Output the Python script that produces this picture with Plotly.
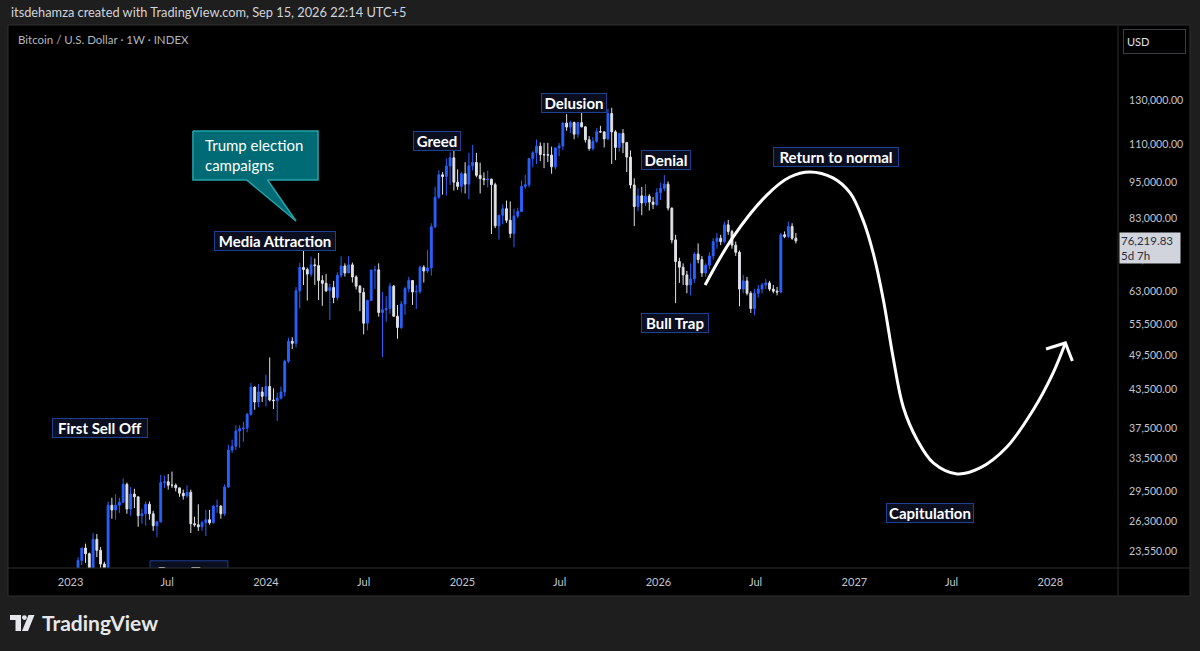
import math
import pandas as pd
import plotly.graph_objects as go

# ---------------- DATA (BTC/USD weekly, thousands of USD) ----------------
FIRST_WEEK = "2022-09-12"

OPEN = [
    # 2022 (from Sep 12)
    21.8, 19.4, 18.8, 19.3, 19.1, 19.1, 19.6, 20.6, 20.9, 16.3, 16.3, 16.4, 17.1, 17.1, 16.8, 16.8,
    # 2023
    16.6, 17.1, 21.2, 22.7, 23.8, 23.3, 21.8, 24.6, 23.6, 22.4, 22.1, 28.0, 27.5, 28.0, 28.3, 30.3,
    27.6, 29.2, 28.9, 26.9, 27.1, 28.1, 27.1, 25.9, 26.3, 30.5, 30.6, 30.2, 30.2, 29.9, 29.3, 29.0,
    29.4, 26.1, 26.0, 25.8, 26.2, 26.5, 26.2, 27.9, 27.9, 27.1, 30.0, 34.5, 35.0, 37.1, 37.4, 37.5,
    39.5, 43.8, 41.4, 43.0,
    # 2024
    42.3, 43.9, 41.7, 41.6, 42.0, 43.0, 48.3, 52.1, 51.7, 63.1, 68.9, 68.4, 67.2, 69.6, 69.4, 65.6,
    64.9, 63.1, 63.9, 61.5, 66.9, 69.3, 67.5, 69.6, 66.5, 64.2, 62.7, 55.8, 60.8, 68.2, 68.3, 58.1,
    58.7, 59.0, 64.2, 57.3, 54.9, 60.0, 63.6, 65.6, 62.8, 62.9, 69.0, 68.0, 68.8, 80.4, 89.9, 97.9,
    97.3, 101.2, 104.4, 95.2, 93.7,
    # 2025
    98.3, 94.5, 101.3, 102.6, 97.7, 96.5, 96.1, 96.3, 94.3, 80.7, 84.0, 86.1, 82.4, 78.4, 83.7, 85.2,
    93.7, 94.3, 104.1, 106.4, 109.1, 105.7, 105.6, 105.5, 100.9, 108.4, 109.2, 119.1, 117.3, 119.4,
    114.2, 119.3, 117.4, 111.8, 108.2, 111.1, 115.3, 115.2, 112.2, 123.5, 115.2, 108.6, 114.5, 110.6,
    104.7, 94.2, 86.8,
    # Dec 2025 - Sep 2026
    90.4, 88.0, 90.3, 88.3, 87.5, 91.5, 93.0, 94.5, 86.3, 76.5, 70.5, 69.0, 67.0, 64.5, 66.0, 72.5,
    71.0, 67.5, 69.5, 72.0, 76.0, 77.0, 76.0, 81.0, 79.0, 75.0, 73.0, 63.5, 65.5, 62.5, 59.0, 62.5,
    63.5, 64.5, 65.0, 63.5, 63.0, 62.8, 78.0, 77.5, 80.5, 77.0,
]
HIGH = [
    22.7, 19.9, 20.4, 20.5, 19.5, 19.7, 21.0, 21.5, 21.0, 17.2, 16.8, 17.4, 17.4, 18.4, 17.0, 16.9,
    17.4, 21.4, 23.0, 23.8, 24.2, 23.4, 25.2, 25.1, 23.9, 22.6, 28.4, 28.8, 29.2, 28.8, 31.0, 30.5,
    30.0, 29.8, 28.9, 27.6, 28.4, 28.4, 27.4, 26.2, 31.4, 31.3, 31.5, 31.8, 30.4, 29.9, 29.7, 30.2,
    29.7, 26.8, 28.1, 26.4, 27.5, 27.5, 28.0, 28.6, 28.0, 30.3, 35.2, 35.9, 37.9, 37.9, 38.4, 39.7,
    44.5, 43.9, 44.3, 43.8,
    45.9, 49.0, 43.6, 42.9, 43.9, 48.6, 52.8, 52.9, 64.0, 70.1, 73.8, 68.9, 71.8, 71.3, 72.8, 66.9,
    67.2, 64.8, 65.5, 67.7, 71.9, 70.0, 71.9, 70.2, 66.9, 64.5, 63.8, 61.0, 68.4, 69.4, 70.0, 62.8,
    61.8, 65.0, 64.5, 59.8, 60.7, 64.1, 66.5, 65.6, 64.5, 69.4, 69.5, 73.6, 81.5, 93.5, 99.6, 98.9,
    104.1, 106.6, 108.4, 99.9, 99.0,
    102.7, 106.4, 109.6, 106.4, 102.5, 98.8, 99.5, 96.5, 95.0, 84.0, 87.5, 88.8, 88.5, 86.1, 86.4,
    95.8, 97.9, 104.3, 107.1, 111.9, 110.7, 110.5, 110.5, 108.9, 108.5, 110.5, 119.5, 123.2, 120.2,
    119.7, 119.3, 124.5, 117.6, 113.4, 113.0, 116.8, 117.9, 115.3, 125.7, 126.2, 115.9, 114.6, 116.4,
    110.8, 107.4, 96.6, 93.0,
    93.5, 94.5, 91.0, 90.0, 93.0, 95.0, 97.8, 95.5, 86.5, 78.0, 71.5, 70.0, 68.0, 70.0, 73.0, 75.5,
    72.0, 70.0, 73.0, 77.0, 78.5, 78.0, 82.0, 82.5, 79.5, 76.0, 73.5, 67.0, 66.5, 63.0, 63.5, 64.5,
    65.0, 66.0, 65.5, 64.5, 64.0, 78.5, 79.0, 82.0, 81.5, 78.5,
]
LOW = [
    19.3, 18.1, 18.5, 19.0, 18.2, 18.9, 19.2, 20.0, 15.6, 15.8, 15.5, 16.0, 16.9, 16.5, 16.3, 16.4,
    16.5, 17.1, 20.4, 22.3, 22.5, 21.4, 21.4, 23.0, 21.9, 19.6, 21.9, 26.6, 26.5, 27.2, 28.2, 27.1,
    26.9, 27.7, 25.8, 26.1, 25.9, 26.5, 25.4, 24.8, 26.2, 29.9, 29.7, 29.9, 29.5, 28.9, 28.6, 28.8,
    25.2, 25.8, 25.4, 25.4, 24.9, 26.0, 26.1, 27.2, 26.6, 26.9, 29.9, 34.1, 34.5, 34.8, 35.6, 36.9,
    39.3, 40.2, 40.6, 41.4,
    40.7, 41.5, 40.3, 38.5, 41.8, 42.3, 48.0, 50.6, 50.9, 59.0, 64.5, 60.8, 66.5, 64.5, 60.9, 59.6,
    62.8, 56.5, 60.2, 60.8, 66.3, 66.6, 67.5, 65.1, 63.4, 58.4, 53.5, 54.3, 60.8, 63.5, 57.2, 49.1,
    56.1, 57.8, 57.2, 52.6, 54.6, 57.6, 62.7, 59.8, 58.9, 62.4, 65.1, 67.5, 66.8, 80.0, 89.4, 90.8,
    90.5, 94.2, 92.2, 92.5, 91.5,
    91.2, 89.3, 99.5, 97.0, 91.2, 94.1, 93.3, 78.2, 80.0, 76.6, 81.2, 81.6, 77.1, 74.4, 83.1,
    85.1, 92.8, 93.4, 100.7, 102.0, 103.1, 100.4, 102.7, 98.3, 100.0, 105.1, 107.5, 115.7, 114.7,
    112.0, 112.7, 117.2, 110.6, 107.3, 107.3, 110.6, 114.8, 108.6, 111.6, 102.0, 103.5, 106.9, 106.3,
    98.9, 93.0, 80.6, 85.3,
    84.0, 87.0, 85.5, 86.0, 87.0, 89.0, 92.0, 85.5, 75.5, 60.2, 65.0, 64.5, 62.5, 62.0, 65.0, 70.0,
    66.5, 66.5, 68.5, 71.0, 74.0, 75.0, 75.5, 78.0, 74.0, 72.0, 59.5, 62.5, 62.0, 58.0, 57.5, 61.5,
    62.5, 63.5, 63.0, 62.5, 62.0, 62.5, 77.0, 77.0, 76.5, 75.5,
]
CLOSE = [
    19.4, 18.8, 19.3, 19.1, 19.1, 19.6, 20.6, 20.9, 16.3, 16.3, 16.4, 17.1, 17.1, 16.8, 16.8, 16.6,
    17.1, 21.2, 22.7, 23.8, 23.3, 21.8, 24.6, 23.6, 22.4, 22.1, 28.0, 27.5, 28.0, 28.3, 30.3, 27.6,
    29.2, 28.9, 26.9, 27.1, 28.1, 27.1, 25.9, 26.3, 30.5, 30.6, 30.2, 30.2, 29.9, 29.3, 29.0, 29.4,
    26.1, 26.0, 25.8, 26.2, 26.5, 26.2, 27.9, 27.9, 27.1, 30.0, 34.5, 35.0, 37.1, 37.4, 37.5, 39.5,
    43.8, 41.4, 43.0, 42.3,
    43.9, 41.7, 41.6, 42.0, 43.0, 48.3, 52.1, 51.7, 63.1, 68.9, 68.4, 67.2, 69.6, 69.4, 65.6, 64.9,
    63.1, 63.9, 61.5, 66.9, 69.3, 67.5, 69.6, 66.5, 64.2, 62.7, 55.8, 60.8, 68.2, 68.3, 58.1, 58.7,
    59.0, 64.2, 57.3, 54.9, 60.0, 63.6, 65.6, 62.8, 62.9, 69.0, 68.0, 68.8, 80.4, 89.9, 97.9, 97.3,
    101.2, 104.4, 95.2, 93.7, 98.3,
    94.5, 101.3, 102.6, 97.7, 96.5, 96.1, 96.3, 94.3, 80.7, 84.0, 86.1, 82.4, 78.4, 83.7, 85.2,
    93.7, 94.3, 104.1, 106.4, 109.1, 105.7, 105.6, 105.5, 100.9, 108.4, 109.2, 119.1, 117.3, 119.4,
    114.2, 119.3, 117.4, 111.8, 108.2, 111.1, 115.3, 115.2, 112.2, 123.5, 115.2, 108.6, 114.5, 110.6,
    104.7, 94.2, 86.8, 90.4,
    88.0, 90.3, 88.3, 87.5, 91.5, 93.0, 94.5, 86.3, 76.5, 70.5, 69.0, 67.0, 64.5, 66.0, 72.5, 71.0,
    67.5, 69.5, 72.0, 76.0, 77.0, 76.0, 81.0, 79.0, 75.0, 73.0, 63.5, 65.5, 62.5, 59.0, 62.5, 63.5,
    64.5, 65.0, 63.5, 63.0, 62.8, 78.0, 77.5, 80.5, 77.0, 76.21983,
]

LAST_PRICE = 76219.83
LAST_COUNTDOWN = "5d 7h"

Y_TICKS = [23550, 26300, 29500, 33500, 37500, 43500, 49500, 55500, 63000, 71000,
           83000, 95000, 110000, 130000]
X_TICKS = ["2023-01-02", "2023-07-01", "2024-01-01", "2024-07-01", "2025-01-01", "2025-07-01",
           "2026-01-01", "2026-07-01", "2027-01-01", "2027-07-01", "2028-01-01"]
X_TICK_TEXT = ["2023", "Jul", "2024", "Jul", "2025", "Jul", "2026", "Jul", "2027", "Jul", "2028"]

# phase labels: (text, date, price, box width px)
LABELS = [
    ("First Sell Off", "2023-02-25", 37520, 96),
    ("Media Attraction", "2024-01-18", 76190, 122),
    ("Greed", "2024-11-14", 111265, 48),
    ("Delusion", "2025-07-27", 128530, 66),
    ("Denial", "2026-01-15", 103530, 50),
    ("Return to normal", "2026-11-28", 104730, 126),
    ("Bull Trap", "2026-02-01", 55845, 68),
    ("Capitulation", "2027-05-22", 27190, 88),
]
# partly hidden label: text, box x0, x1 (dates), y0, y1 (prices)
BEAR_TRAP = ("Bear Trap", "2023-05-30", "2023-10-22", 20900, 22680)

# callout outline (date, price) and text
CALLOUT_X = ["2023-08-18", "2024-04-07", "2024-04-07", "2024-01-04", "2024-02-26",
             "2023-11-26", "2023-08-18", "2023-08-18"]
CALLOUT_Y = [115560, 115560, 95990, 95990, 82180, 95990, 95990, 115560]
CALLOUT_TEXT = ("Trump election<br>campaigns", "2023-09-06", 105530)

# hand-drawn scenario path
PATH_X = ["2026-03-29", "2026-05-20", "2026-07-22", "2026-09-03", "2026-10-10", "2026-11-22",
          "2026-12-24", "2027-01-17", "2027-02-05", "2027-02-24", "2027-03-14", "2027-04-02",
          "2027-04-28", "2027-05-28", "2027-07-11", "2027-08-23", "2027-10-12", "2027-11-30",
          "2028-01-06", "2028-01-29"]
PATH_Y = [64490, 77340, 90670, 97085, 98940, 96745, 91400, 82520, 72830, 60930, 49100, 40620,
          35850, 32860, 31520, 32240, 34910, 40170, 46200, 51770]
ARROW_X = ["2027-12-24", "2028-01-29", "2028-02-11"]
ARROW_Y = [50600, 51770, 48360]

# ---------------- FIGURE ----------------
W, H = 1200, 651
ML, MR, MT, MB = 12, 82, 25, 83
PW, PH = W - ML - MR, H - MT - MB
FONT = "Lato"
LABEL_BG = "#0a0e1f"
LABEL_BORDER = "#1f3f95"


def fx(p):
    return (p - ML) / PW


def fy(p):
    return (H - MB - p) / PH


dates = pd.date_range(FIRST_WEEK, periods=len(CLOSE), freq="7D")
k = 1000.0

fig = go.Figure()

# callout bubble
fig.add_trace(go.Scatter(
    x=CALLOUT_X, y=CALLOUT_Y, mode="lines", fill="toself",
    fillcolor="#006b74", line=dict(color="#22a5ab", width=1.5),
    hoverinfo="skip", showlegend=False))

fig.add_trace(go.Candlestick(
    x=dates,
    open=[v * k for v in OPEN], high=[v * k for v in HIGH],
    low=[v * k for v in LOW], close=[v * k for v in CLOSE],
    increasing=dict(line=dict(color="#2962ff", width=1), fillcolor="#2962ff"),
    decreasing=dict(line=dict(color="#e0e2e7", width=1), fillcolor="#e0e2e7"),
    whiskerwidth=0, showlegend=False, hoverinfo="skip"))

fig.add_trace(go.Scatter(
    x=PATH_X, y=PATH_Y, mode="lines", line=dict(color="white", width=3, shape="spline", smoothing=1.0),
    hoverinfo="skip", showlegend=False))
fig.add_trace(go.Scatter(
    x=ARROW_X, y=ARROW_Y, mode="lines", line=dict(color="white", width=3),
    hoverinfo="skip", showlegend=False))

# Bear trap label (clipped by the time axis)
bt_text, bt_x0, bt_x1, bt_y0, bt_y1 = BEAR_TRAP
fig.add_shape(type="rect", xref="x", yref="y", x0=bt_x0, x1=bt_x1, y0=bt_y0, y1=bt_y1,
              fillcolor=LABEL_BG, line=dict(color=LABEL_BORDER, width=1), layer="above",
              label=dict(text=bt_text, textposition="middle center",
                         font=dict(family=FONT, size=15, color="white", weight=700)))

for text, xd, yv, bw in LABELS:
    fig.add_annotation(
        x=xd, y=math.log10(yv), xref="x", yref="y", text=text, showarrow=False,
        font=dict(family=FONT, size=15, color="white", weight=700),
        width=bw - 4, height=16, align="center", valign="middle",
        bgcolor=LABEL_BG, bordercolor=LABEL_BORDER, borderwidth=1, borderpad=1)

ct, cx, cy = CALLOUT_TEXT
fig.add_annotation(x=cx, y=math.log10(cy), xref="x", yref="y", text=ct, showarrow=False,
                   xanchor="left", yanchor="middle", align="left",
                   font=dict(family=FONT, size=15, color="white"))

# price label on the axis
fig.add_annotation(x=fx(1119), y=math.log10(LAST_PRICE), xref="paper", yref="y",
                   xanchor="left", yanchor="top", yshift=9, align="left",
                   text=f"{LAST_PRICE:,.2f}<br>{LAST_COUNTDOWN}", showarrow=False,
                   font=dict(family=FONT, size=11.5, color="#2a2e39"),
                   bgcolor="#d1d4dc", borderpad=1, width=58)

# USD button
fig.add_annotation(x=fx(1154.5), y=fy(41.5), xref="paper", yref="paper", text="USD", showarrow=False,
                   xanchor="center", yanchor="middle",
                   font=dict(family=FONT, size=11, color="#e0e3eb"), width=55, height=17,
                   align="left", bordercolor="#3a3d45", borderwidth=1, borderpad=3,
                   bgcolor="#000000")

# header + title
fig.add_annotation(x=fx(9), y=fy(12), xref="paper", yref="paper", xanchor="left", yanchor="middle",
                   text="itsdehamza created with TradingView.com, Sep 15, 2026 22:14 UTC+5",
                   showarrow=False, font=dict(family=FONT, size=12.8, color="#d1d4dc"))
fig.add_annotation(x=fx(16), y=fy(39), xref="paper", yref="paper", xanchor="left", yanchor="middle",
                   text="Bitcoin / U.S. Dollar · 1W · INDEX",
                   showarrow=False, font=dict(family=FONT, size=11.5, color="#b2b5be"))

# TradingView logo
logo_col = "#e6e7ea"
fig.add_annotation(x=fx(40), y=fy(622), xref="paper", yref="paper", xanchor="left", yanchor="middle",
                   text="TradingView", showarrow=False,
                   font=dict(family=FONT, size=21, color=logo_col, weight=700))
fig.add_shape(type="rect", xref="paper", yref="paper", x0=fx(10), x1=fx(21), y0=fy(620), y1=fy(615),
              fillcolor=logo_col, line_width=0)
fig.add_shape(type="rect", xref="paper", yref="paper", x0=fx(15.5), x1=fx(21), y0=fy(631), y1=fy(615),
              fillcolor=logo_col, line_width=0)
fig.add_shape(type="circle", xref="paper", yref="paper", x0=fx(22), x1=fx(26.8), y0=fy(620), y1=fy(615.2),
              fillcolor=logo_col, line_width=0)
fig.add_shape(type="path", xref="paper", yref="paper",
              path=f"M {fx(28.5)} {fy(615)} L {fx(34.5)} {fy(615)} L {fx(28)} {fy(631)} L {fx(22)} {fy(631)} Z",
              fillcolor=logo_col, line_width=0)

# chart panel frame and separators
frame = "#2e2e2e"
fig.add_shape(type="rect", xref="paper", yref="paper", x0=fx(8), x1=fx(1190), y0=fy(596), y1=fy(25),
              fillcolor="#000000", line=dict(color=frame, width=1), layer="below")
fig.add_shape(type="line", xref="paper", yref="paper", x0=fx(1118), x1=fx(1118), y0=fy(596), y1=fy(25),
              line=dict(color=frame, width=1))
fig.add_shape(type="line", xref="paper", yref="paper", x0=fx(8), x1=fx(1190), y0=fy(568), y1=fy(568),
              line=dict(color=frame, width=1))

fig.update_layout(
    width=W, height=H,
    margin=dict(l=ML, r=MR, t=MT, b=MB, pad=0),
    paper_bgcolor="#1e1e1e", plot_bgcolor="#000000",
    showlegend=False, hovermode=False,
    font=dict(family=FONT, color="#b2b5be"),
    xaxis=dict(type="date", range=["2022-09-15", "2028-05-06"], rangeslider=dict(visible=False),
               showgrid=False, zeroline=False, showline=False,
               tickvals=X_TICKS, ticktext=X_TICK_TEXT, ticks="outside", ticklen=4,
               tickcolor="#000000", tickfont=dict(family=FONT, size=11, color="#c3c6ce")),
    yaxis=dict(type="log", side="right",
               range=[math.log10(22070), math.log10(172700)],
               showgrid=False, zeroline=False, showline=False,
               tickvals=Y_TICKS, ticktext=[f"{v:,.2f}" for v in Y_TICKS],
               ticks="outside", ticklen=8, tickcolor="#000000",
               tickfont=dict(family=FONT, size=10.6, color="#c3c6ce")),
)

fig.write_html("out.html", config={"displayModeBar": False},
               post_script="document.body.style.margin='0';document.body.style.overflow='hidden';")
